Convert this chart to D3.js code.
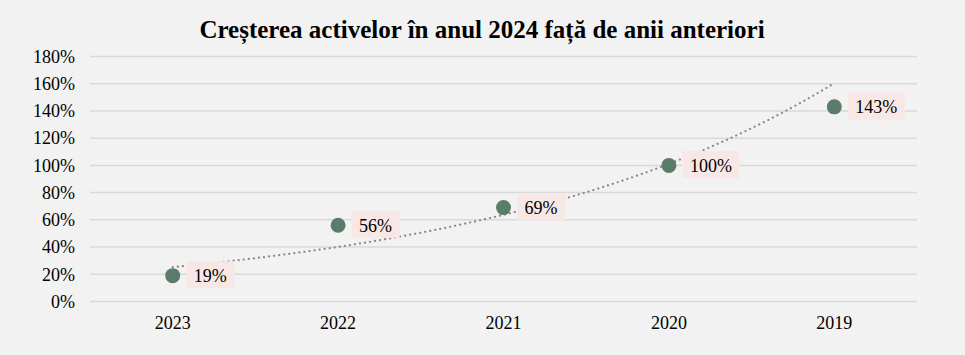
<!DOCTYPE html>
<html><head><meta charset="utf-8">
<script src="https://cdn.jsdelivr.net/npm/d3@7"></script>
<style>body{margin:0;background:#f2f2f2}svg{display:block}</style>
</head><body>
<svg id="c" width="965" height="355"></svg>
<script>
const categories = ["2023","2022","2021","2020","2019"];
const values = [19, 56, 69, 100, 143];
const yTicks = [0,20,40,60,80,100,120,140,160,180];
const title = "Creșterea activelor în anul 2024 față de anii anteriori";

const svg = d3.select("#c");
const W = 965, H = 355;
const m = {left: 90, right: 48, top: 56.5, bottom: 53.5};
const font = "'Liberation Serif','Times New Roman',serif";
svg.append("rect").attr("width", W).attr("height", H).attr("fill", "#f2f2f2");

const x = d3.scaleBand().domain(categories).range([m.left, W - m.right]);
const y = d3.scaleLinear().domain([0, 180]).range([H - m.bottom, m.top]);
const cx = d => x(d) + x.bandwidth() / 2;

// grid
svg.append("g").selectAll("line").data(yTicks).join("line")
  .attr("x1", m.left).attr("x2", W - m.right)
  .attr("y1", d => y(d)).attr("y2", d => y(d))
  .attr("stroke", "#d9d9d9").attr("stroke-width", 1.5);

// y axis
const ya = svg.append("g").attr("transform", `translate(${m.left},0)`)
  .call(d3.axisLeft(y).tickValues(yTicks).tickFormat(d => d + "%").tickSize(0).tickPadding(15));
ya.select(".domain").remove();
ya.selectAll("text").attr("font-family", font).attr("font-size", 18).attr("fill", "#000");

// x axis
const xa = svg.append("g").attr("transform", `translate(0,${H - m.bottom})`)
  .call(d3.axisBottom(x).tickSize(0).tickPadding(14.5));
xa.select(".domain").remove();
xa.selectAll("text").attr("font-family", font).attr("font-size", 18).attr("fill", "#000");

// exponential trendline (least squares on ln y)
const n = values.length;
const xs = values.map((_, i) => i + 1);
const ly = values.map(v => Math.log(v));
const mx = d3.mean(xs), my = d3.mean(ly);
const b = d3.sum(xs.map((xi, i) => (xi - mx) * (ly[i] - my))) / d3.sum(xs.map(xi => (xi - mx) ** 2));
const a = my - b * mx;
const xi2px = d3.scaleLinear().domain([1, n]).range([cx(categories[0]), cx(categories[n - 1])]);
const trend = d3.range(1, n + 0.001, 0.05).map(t => [xi2px(t), y(Math.exp(a + b * t))]);
svg.append("path").attr("d", d3.line()(trend))
  .attr("fill", "none").attr("stroke", "#9c8088").attr("stroke-width", 2.2)
  .attr("stroke-dasharray", "0.1 5").attr("stroke-linecap", "round");

// labels
const lg = svg.append("g");
values.forEach((v, i) => {
  const px = cx(categories[i]), py = y(v);
  const t = v + "%";
  const g = lg.append("g");
  const txt = g.append("text").attr("x", px + 21).attr("y", py + 6.3)
    .attr("font-family", font).attr("font-size", 18).attr("fill", "#000").text(t);
  const w = txt.node().getComputedTextLength();
  g.insert("rect", "text").attr("x", px + 13.5).attr("y", py - 14.4)
    .attr("width", w + 15).attr("height", 27).attr("fill", "#f8e8e5");
});

// dots
svg.append("g").selectAll("circle").data(values).join("circle")
  .attr("cx", (d, i) => cx(categories[i])).attr("cy", d => y(d)).attr("r", 7.5)
  .attr("fill", "#5b7b6b");

// title
svg.append("text").attr("x", 482).attr("y", 38).attr("text-anchor", "middle")
  .attr("font-family", font).attr("font-size", 25).attr("font-weight", "bold")
  .attr("fill", "#000").text(title);
</script>
</body></html>
